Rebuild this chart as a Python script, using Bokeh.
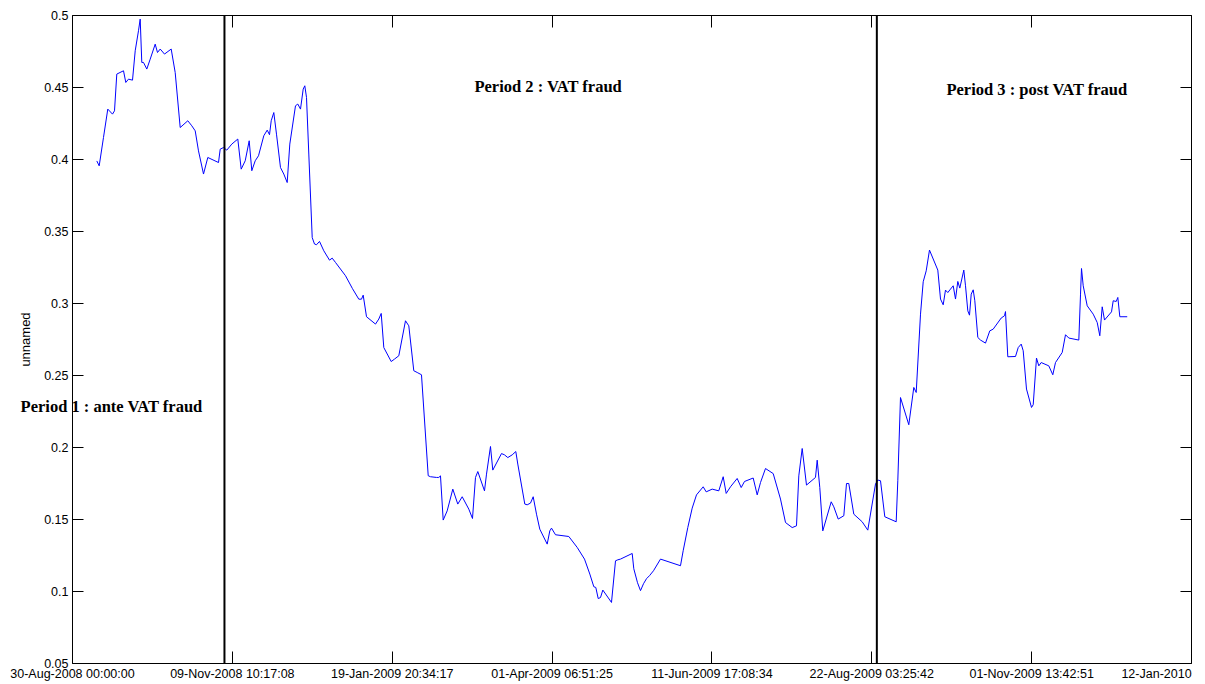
import pandas as pd
from bokeh.plotting import figure
from bokeh.models import (Range1d, FixedTicker, CustomJSTickFormatter, LinearAxis,
                          Label, ColumnDataSource)
from bokeh.embed import file_html
from bokeh.resources import INLINE

# ---------------- data ----------------
start_date = "2008-08-30"
end_date = "2010-01-12"

# observation time, in days after 30-Aug-2008
days_since_start = [
    10.86, 11.93, 13.85, 15.77, 17.87, 18.77, 19.79, 22.79, 23.82, 25.02, 26.81, 28.02,
    29.49, 30.25, 30.96, 31.72, 33.2, 34.72, 36.95, 37.98, 39.19, 41.11, 44.1, 45.89,
    48.12, 51.52, 53.31, 54.83, 56.3, 58.54, 60.46, 65.24, 66.0, 67.47, 68.95, 71.18,
    73.86, 75.38, 77.17, 78.95, 80.12, 81.64, 83.11,
    85.48, 87.0, 88.03, 88.79, 89.95, 91.15, 92.94, 94.41, 95.93, 97.1, 99.64, 100.67,
    101.88, 103.08, 103.8, 104.56, 105.59, 107.11, 108.13, 109.03, 110.37, 112.29, 114.84,
    116.04, 117.52, 121.98, 125.11, 127.93, 129.13, 129.89, 131.37, 135.39, 136.86, 137.94,
    139.1, 142.41, 143.88, 145.8, 148.79, 150.27, 152.5, 154.02, 155.94, 158.94, 159.96, 162.65,
    163.67, 164.43, 165.64, 167.42, 169.93, 172.16, 174.13, 177.08, 178.73, 180.07, 181.1,
    184.09, 184.99, 186.77, 187.8, 191.69, 193.03, 194.5, 196.47, 198.08, 198.97, 202.1,
    203.17, 204.65, 205.85, 207.33, 208.8, 212.11, 213.27, 214.03, 215.82, 221.76, 225.51,
    228.78, 231.15, 232.94, 233.83, 234.9, 235.93, 236.96, 240.84, 242.63, 243.66, 244.86,
    250.09, 250.8, 252.46, 253.8, 255.14, 256.48, 257.82, 259.6, 262.73, 271.67, 272.87,
    274.93, 276.9, 278.82, 281.81, 283.15, 285.83, 288.78, 290.75, 292.09, 294.01, 297.0,
    298.79, 300.27, 304.15, 305.94, 307.42, 309.65, 313.09,
    316.35, 318.59, 321.58, 323.5, 324.53, 326.05, 327.97, 331.99, 332.75, 333.91, 335.25,
    339.01, 340.17, 342.14, 344.64, 345.85, 346.87, 349.11, 352.86, 355.36, 358.8, 359.83,
    361.04, 362.96, 368.05, 368.77, 369.97, 373.68, 375.92, 376.99, 378.91, 380.12, 381.46,
    382.93, 386.64, 387.85, 389.05, 390.08, 391.11,
    392.32, 393.52, 394.55, 395.58, 396.47, 398.26, 399.02, 400.05, 400.81, 401.57, 402.46,
    403.18, 404.52, 405.72, 407.95, 409.87, 411.39, 414.97, 416.44, 416.89, 417.92, 421.36,
    422.57, 423.91, 424.8, 426.27, 428.51, 429.27, 430.74, 431.77, 432.84, 436.24, 438.03,
    439.23, 442.23, 443.7, 445.18, 449.65, 450.41, 450.85, 451.61, 453.4, 456.08, 457.87,
    459.03, 460.1, 461.13, 464.26, 465.02, 466.36, 467.08, 467.97, 471.28,
]

values = [
    0.399, 0.3956, 0.4153, 0.435, 0.4315, 0.4338, 0.4593, 0.4616, 0.4535, 0.4558, 0.4551, 0.4755,
    0.4894, 0.4975, 0.4674, 0.4674, 0.4628, 0.4697, 0.4801, 0.4743, 0.4767, 0.4732, 0.4767, 0.4604,
    0.4222, 0.4269, 0.4234, 0.4199, 0.406, 0.3899, 0.4014, 0.3979, 0.4072, 0.4083, 0.4065, 0.4107,
    0.4142, 0.3933, 0.3991, 0.413, 0.3922, 0.3991, 0.4026,
    0.4165, 0.4204, 0.4172, 0.4269, 0.4326, 0.4176, 0.3944, 0.3899, 0.384, 0.4107, 0.4373, 0.4385,
    0.435, 0.4489, 0.4512, 0.4431, 0.4038, 0.3458, 0.3413, 0.3408, 0.3431, 0.3366, 0.3301,
    0.3315, 0.3285, 0.3193, 0.3103, 0.303, 0.303, 0.3058, 0.2908, 0.2857, 0.2892, 0.2931,
    0.2694, 0.2597, 0.2614, 0.2637, 0.288, 0.2845, 0.2533, 0.2521, 0.2505, 0.1804, 0.1797, 0.1792,
    0.1792, 0.1803, 0.1496, 0.156, 0.1711, 0.1607, 0.1658, 0.1572, 0.1507, 0.1792, 0.1833,
    0.1699, 0.1815, 0.2007, 0.1843, 0.1958, 0.1949, 0.193, 0.1949, 0.1972, 0.1885, 0.1607,
    0.1602, 0.1614, 0.1658, 0.1537, 0.1433, 0.1329, 0.1421, 0.144, 0.1394, 0.1382, 0.1306,
    0.1225, 0.1121, 0.1033, 0.1028, 0.0951, 0.0958, 0.101, 0.0924, 0.1213, 0.122, 0.1225,
    0.1264, 0.1158, 0.1061, 0.1006, 0.1054, 0.1089, 0.111, 0.1144, 0.1225, 0.1179, 0.1283,
    0.1444, 0.1579, 0.1671, 0.1727, 0.1692, 0.1711, 0.1699, 0.1797, 0.1681, 0.1727, 0.1785,
    0.1722, 0.1764, 0.1788, 0.1671, 0.1757, 0.1854, 0.1819,
    0.1642, 0.1479, 0.1444, 0.1456, 0.1803, 0.1993, 0.1739, 0.1792, 0.1912, 0.1722, 0.1421,
    0.1623, 0.1588, 0.1503, 0.1526, 0.175, 0.175, 0.1537, 0.1484, 0.1426, 0.1746, 0.1774,
    0.1769, 0.1519, 0.1484, 0.1769, 0.2347, 0.2158, 0.2417, 0.2382, 0.2926, 0.3151, 0.3227,
    0.3371, 0.3232, 0.3031, 0.2991, 0.3093, 0.3076,
    0.31, 0.3123, 0.3031, 0.3153, 0.3107, 0.3232, 0.3123, 0.2949, 0.2919, 0.3065, 0.3095,
    0.3019, 0.2764, 0.2746, 0.2725, 0.281, 0.2822, 0.2899, 0.2915, 0.2944, 0.263, 0.2632,
    0.2694, 0.2718, 0.2672, 0.2406, 0.2278, 0.2297, 0.2621, 0.2567, 0.259, 0.2567, 0.2505,
    0.259, 0.266, 0.2783, 0.276, 0.2746, 0.3065, 0.3243, 0.3123, 0.2984, 0.2926, 0.2868,
    0.2776, 0.2977, 0.2885, 0.2942, 0.3019, 0.3014, 0.3042, 0.2908, 0.2908,
]

tick_labels = [
    "30-Aug-2008 00:00:00", "09-Nov-2008 10:17:08", "19-Jan-2009 20:34:17",
    "01-Apr-2009 06:51:25", "11-Jun-2009 17:08:34", "22-Aug-2009 03:25:42",
    "01-Nov-2009 13:42:51", "12-Jan-2010",
]
y_ticks = [0.05, 0.1, 0.15, 0.2, 0.25, 0.3, 0.35, 0.4, 0.45, 0.5]

# period boundaries, days after 30-Aug-2008
period_break_days = [67.9, 359.4]
period_labels = ["Period 1 : ante VAT fraud", "Period 2 : VAT fraud", "Period 3 : post VAT fraud"]

# ---------------- layout ----------------
W, H = 1205, 684
PAD_L, PAD_R, PAD_T, PAD_B = 72, 14, 15, 21   # space around the axes box, px
label_day = [-23.2, 179.6, 390.5]     # annotation anchors (data units)
label_val = [0.2283, 0.4505, 0.4484]

DAY_MS = 86400000.0
t0_ms = pd.Timestamp(start_date).value / 1e6
t1_ms = pd.Timestamp(end_date).value / 1e6
y0, y1 = y_ticks[0], y_ticks[-1]
x_ms = [t0_ms + d * DAY_MS for d in days_since_start]
n_ticks = len(tick_labels)
tick_ms = [t0_ms + k * (t1_ms - t0_ms) / (n_ticks - 1) for k in range(n_ticks)]
shown_labels = tick_labels[:-1] + [tick_labels[-1] + "\u00a0" * 4]

# the drawing area fills the canvas; the axes box is drawn with fixed-location axes
box_w = W - PAD_L - PAD_R
box_h = H - PAD_T - PAD_B
xspan = t1_ms - t0_ms
yspan = y1 - y0
x_lo = t0_ms - xspan * PAD_L / box_w
x_hi = t1_ms + xspan * PAD_R / box_w
y_lo = y0 - yspan * PAD_B / box_h
y_hi = y1 + yspan * PAD_T / box_h

FONT = "Liberation Sans"
TICK_FS = "12.5px"

p = figure(width=W, height=H, x_axis_type="datetime",
           output_backend="svg", toolbar_location=None,
           x_range=Range1d(x_lo, x_hi), y_range=Range1d(y_lo, y_hi),
           min_border_left=0, min_border_right=0, min_border_top=0, min_border_bottom=0)
p.xgrid.visible = False
p.ygrid.visible = False
p.outline_line_color = None
p.background_fill_color = "white"
p.border_fill_color = "white"

src = ColumnDataSource(dict(x=x_ms, y=values))
p.line("x", "y", source=src, line_color="#0000ff", line_width=1)

break_ms = [t0_ms + d * DAY_MS for d in period_break_days]
p.segment(x0=break_ms, y0=[y0] * len(break_ms), x1=break_ms, y1=[y1] * len(break_ms),
          line_color="black", line_width=2)

for txt, d, v in zip(period_labels, label_day, label_val):
    p.add_layout(Label(x=t0_ms + d * DAY_MS, y=v, text=txt,
                       text_font="Liberation Serif", text_font_style="bold",
                       text_font_size="16.5px", text_color="black",
                       text_align="left", text_baseline="middle"))

xfmt = CustomJSTickFormatter(args=dict(tpos=tick_ms, ttext=shown_labels), code="""
let best = 0, bd = Infinity;
for (let i = 0; i < tpos.length; i++) {
  const d = Math.abs(tpos[i] - tick);
  if (d < bd) { bd = d; best = i; }
}
return ttext[best];
""")
yfmt = CustomJSTickFormatter(code="return String(Math.round(tick * 100) / 100);")
empty_r = CustomJSTickFormatter(code="return '';")
empty_t = CustomJSTickFormatter(code="return '';")

xa = p.xaxis[0]
xa.fixed_location = y0
xa.ticker = FixedTicker(ticks=tick_ms)
xa.formatter = xfmt
xa.bounds = (t0_ms, t1_ms)
xa.major_tick_in = 12
xa.major_tick_out = 0
xa.minor_tick_in = 0
xa.minor_tick_out = 0
xa.major_label_standoff = 3
xa.major_label_text_font = FONT
xa.major_label_text_font_size = TICK_FS
xa.major_label_text_color = "black"
xa.axis_line_color = "black"
xa.major_tick_line_color = "black"

ya = p.yaxis[0]
ya.fixed_location = t0_ms
ya.ticker = FixedTicker(ticks=y_ticks)
ya.formatter = yfmt
ya.bounds = (y0, y1)
ya.major_tick_in = 11
ya.major_tick_out = 0
ya.minor_tick_in = 0
ya.minor_tick_out = 0
ya.major_label_standoff = 4
ya.major_label_text_font = FONT
ya.major_label_text_font_size = TICK_FS
ya.major_label_text_color = "black"
ya.axis_label = "unnamed"
ya.axis_label_text_font = FONT
ya.axis_label_text_font_size = "13px"
ya.axis_label_text_font_style = "normal"
ya.axis_label_text_color = "black"
ya.axis_label_standoff = 8
ya.axis_line_color = "black"
ya.major_tick_line_color = "black"

ra = LinearAxis(ticker=FixedTicker(ticks=y_ticks), formatter=empty_r, fixed_location=t1_ms,
                bounds=(y0, y1),
                major_tick_in=11, major_tick_out=0, minor_tick_in=0, minor_tick_out=0,
                major_label_standoff=0, axis_line_color="black", major_tick_line_color="black")
p.add_layout(ra, "right")
ta = LinearAxis(ticker=FixedTicker(ticks=tick_ms), formatter=empty_t, fixed_location=y1,
                bounds=(t0_ms, t1_ms),
                major_tick_in=12, major_tick_out=0, minor_tick_in=0, minor_tick_out=0,
                major_label_standoff=0, axis_line_color="black", major_tick_line_color="black")
p.add_layout(ta, "above")

open("out.html", "w").write(file_html(p, INLINE))
